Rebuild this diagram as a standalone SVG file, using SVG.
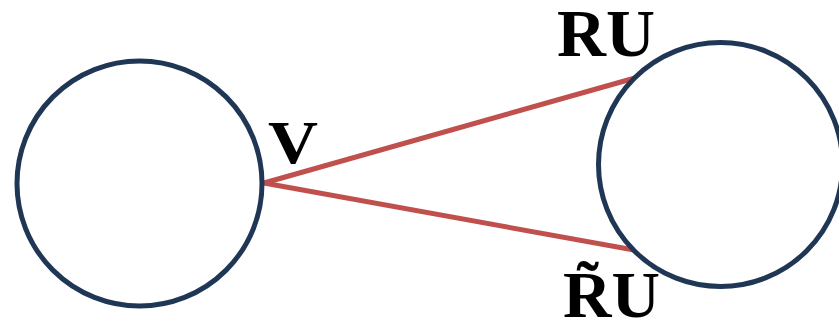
<svg xmlns="http://www.w3.org/2000/svg" width="839" height="322" viewBox="0 0 839 322">
<style>
.node{fill:none;stroke:#1f3655;stroke-width:5}
.edge{stroke:#c0504d;stroke-width:5;fill:none}
.lbl{font-family:"Liberation Serif","DejaVu Serif",serif;font-weight:bold;fill:#000}
</style>
<rect width="839" height="322" fill="#fff"/>
<g id="connectors">
<line class="edge" x1="264" y1="183" x2="635" y2="78"/>
<line class="edge" x1="264" y1="183" x2="634" y2="250"/>
</g>
<g id="node-left">
<circle class="node" cx="139.5" cy="183.5" r="122.5"/>
<text class="lbl" x="268" y="163" font-size="62" textLength="50" lengthAdjust="spacingAndGlyphs">V</text>
</g>
<g id="node-right">
<circle class="node" cx="720.5" cy="164.5" r="122"/>
<text class="lbl" x="557" y="56" font-size="67" textLength="98" lengthAdjust="spacingAndGlyphs">RU</text>
<text class="lbl" x="563" y="317" font-size="66" textLength="97" lengthAdjust="spacingAndGlyphs">R̃U</text>
</g>
</svg>
